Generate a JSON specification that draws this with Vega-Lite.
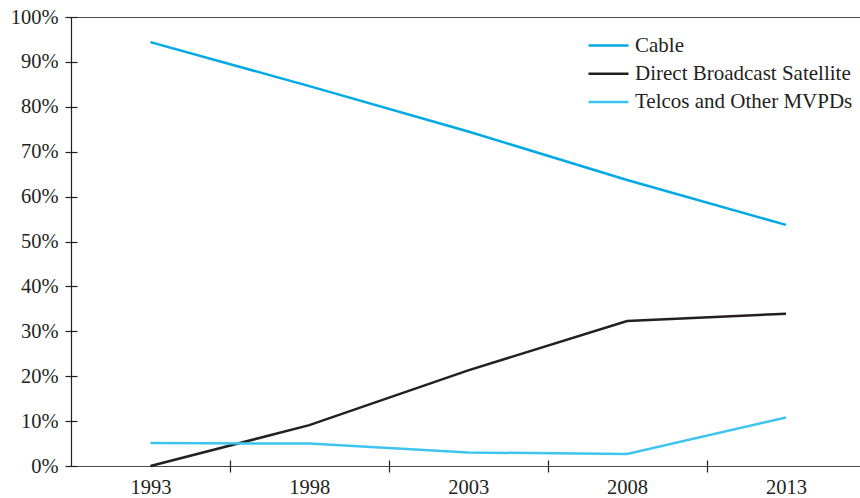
{
  "$schema": "https://vega.github.io/schema/vega-lite/v6.json",
  "autosize": "none",
  "width": 789,
  "height": 449,
  "padding": {"left": 71, "top": 17, "right": 0, "bottom": 32},
  "background": "white",
  "config": {
    "view": {"stroke": null},
    "font": "Liberation Serif",
    "axis": {"labelFont": "Liberation Serif", "labelColor": "#231f20", "labelFontSize": 20.5, "tickColor": "#231f20", "tickWidth": 1.2}
  },
  "data": {
    "values": [
      {"year": 1993, "series": "Cable", "share": 0.944},
      {"year": 1998, "series": "Cable", "share": 0.846},
      {"year": 2003, "series": "Cable", "share": 0.745},
      {"year": 2008, "series": "Cable", "share": 0.637},
      {"year": 2013, "series": "Cable", "share": 0.537},
      {"year": 1993, "series": "Direct Broadcast Satellite", "share": 0.0},
      {"year": 1998, "series": "Direct Broadcast Satellite", "share": 0.091},
      {"year": 2003, "series": "Direct Broadcast Satellite", "share": 0.213},
      {"year": 2008, "series": "Direct Broadcast Satellite", "share": 0.323},
      {"year": 2013, "series": "Direct Broadcast Satellite", "share": 0.339},
      {"year": 1993, "series": "Telcos and Other MVPDs", "share": 0.051},
      {"year": 1998, "series": "Telcos and Other MVPDs", "share": 0.050},
      {"year": 2003, "series": "Telcos and Other MVPDs", "share": 0.030},
      {"year": 2008, "series": "Telcos and Other MVPDs", "share": 0.027},
      {"year": 2013, "series": "Telcos and Other MVPDs", "share": 0.108}
    ]
  },
  "mark": {"type": "line", "strokeWidth": 2.5, "clip": false},
  "encoding": {
    "x": {
      "field": "year",
      "type": "quantitative",
      "scale": {"domain": [1990.5, 2015.33], "nice": false, "zero": false},
      "axis": {
        "title": null,
        "domain": false,
        "orient": "bottom",
        "offset": -6,
        "tickSize": 12,
        "labelPadding": 5,
        "values": [1990.5, 1993, 1995.5, 1998, 2000.5, 2003, 2005.5, 2008, 2010.5, 2013],
        "labelExpr": "datum.value % 1 == 0 ? '' + datum.value : ''",
        "labelOverlap": false,
        "labelFlush": false,
        "labelBound": false,
        "tickOpacity": {"expr": "(datum.value % 1 != 0 && datum.value > 1991) ? 1 : 0"},
        "grid": true,
        "gridColor": "#231f20",
        "gridWidth": 1.2,
        "gridOpacity": {"expr": "datum.value == 1990.5 ? 1 : 0"}
      }
    },
    "y": {
      "field": "share",
      "type": "quantitative",
      "scale": {"domain": [0, 1], "nice": false},
      "axis": {
        "title": null,
        "domain": false,
        "offset": -6,
        "tickSize": 12,
        "labelPadding": 7,
        "values": [0, 0.1, 0.2, 0.3, 0.4, 0.5, 0.6, 0.7, 0.8, 0.9, 1],
        "format": ".0%",
        "labelOverlap": false,
        "labelFlush": false,
        "grid": true,
        "gridColor": "#4a4a4a",
        "gridWidth": 1.2,
        "gridOpacity": {"expr": "(datum.value == 0 || datum.value == 1) ? 1 : 0"}
      }
    },
    "color": {
      "field": "series",
      "type": "nominal",
      "scale": {
        "domain": ["Cable", "Direct Broadcast Satellite", "Telcos and Other MVPDs"],
        "range": ["#00a9e6", "#231f20", "#3fc4f0"]
      },
      "legend": {
        "title": null,
        "orient": "none",
        "legendX": 526,
        "legendY": 17,
        "padding": 0,
        "symbolType": "M-2,0H2",
        "symbolSize": 400,
        "symbolStrokeWidth": 2.5,
        "symbolFillColor": "transparent",
        "rowPadding": 6.3,
        "labelOffset": 15,
        "labelFont": "Liberation Serif",
        "labelFontSize": 21,
        "labelColor": "#231f20",
        "labelLimit": 400
      }
    }
  }
}
